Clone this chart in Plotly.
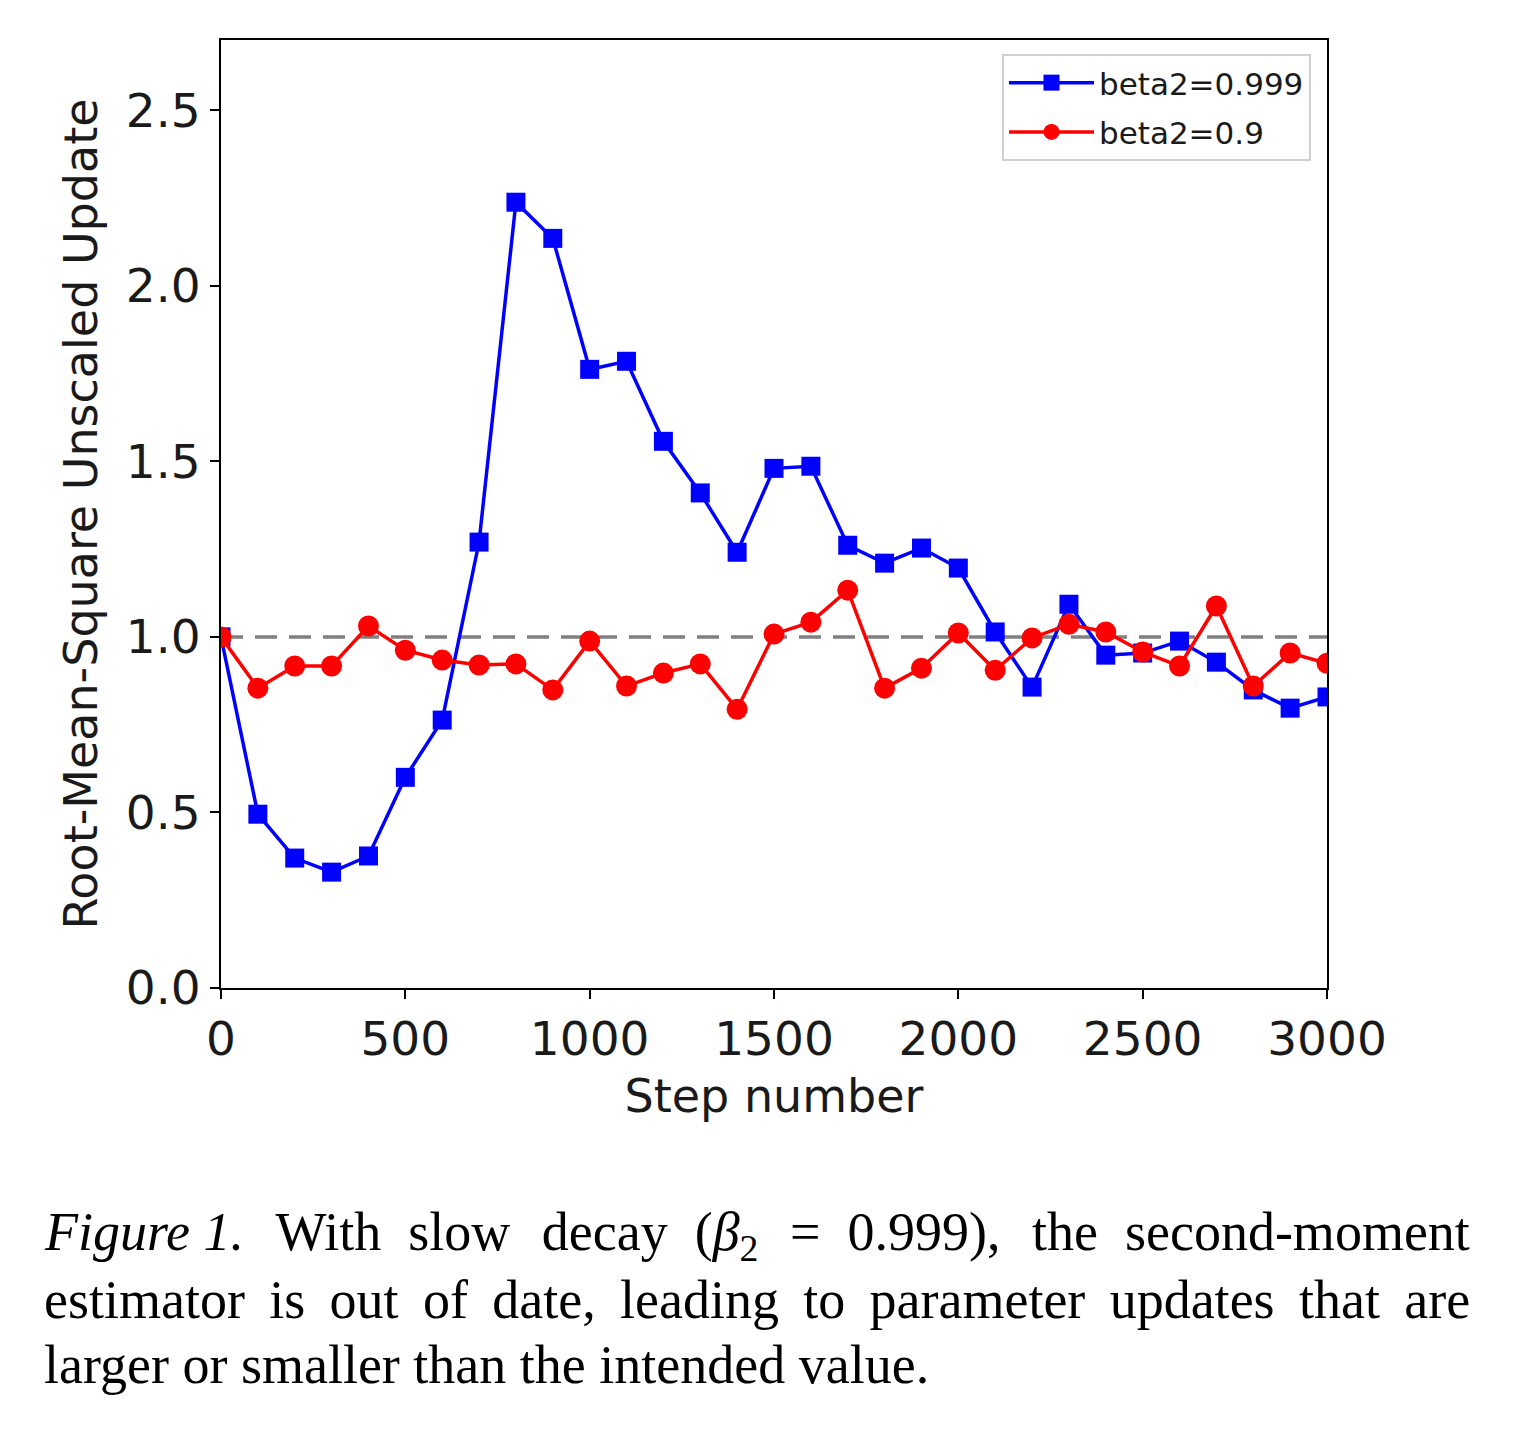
import plotly.graph_objects as go

steps = list(range(0, 3001, 100))
beta999 = [1.0, 0.495, 0.37, 0.33, 0.376, 0.60, 0.763, 1.27, 2.238, 2.135, 1.762, 1.785,
           1.557, 1.41, 1.241, 1.48, 1.486, 1.261, 1.21, 1.253, 1.196, 1.014, 0.857,
           1.093, 0.948, 0.954, 0.988, 0.928, 0.849, 0.797, 0.829]
beta9 = [1.0, 0.854, 0.917, 0.917, 1.031, 0.962, 0.934, 0.92, 0.923, 0.849, 0.988, 0.86,
         0.897, 0.923, 0.794, 1.008, 1.042, 1.133, 0.854, 0.911, 1.011, 0.905, 0.997,
         1.036, 1.014, 0.957, 0.917, 1.088, 0.86, 0.954, 0.925]
ref_value = 1.0
x_ticks = [0, 500, 1000, 1500, 2000, 2500, 3000]
y_ticks = [0.0, 0.5, 1.0, 1.5, 2.0, 2.5]
caption_words = [
    ["<i>Figure 1.</i>", "With", "slow", "decay", "(<i>β</i><sub>2</sub>", "=", "0.999),",
     "the", "second-moment"],
    ["estimator", "is", "out", "of", "date,", "leading", "to", "parameter", "updates",
     "that", "are"],
    ["larger", "or", "smaller", "than", "the", "intended", "value."],
]
caption_gaps = [
    [" \u00a0\u200a", " \u00a0", " \u00a0\u200a", " \u00a0", " \u00a0\u200a", " \u00a0",
     " \u00a0\u200a", " \u00a0"],
    [" \u2009"] * 10,
    [" "] * 6,
]

W, H = 1504, 1414
L, T = 213, 32
PW, PH = 1106, 948
R = W - L - PW
B = H - T - PH

fig = go.Figure()
fig.add_trace(go.Scatter(x=[0, 3000], y=[ref_value, ref_value], mode="lines",
                         line=dict(color="#808080", width=3.5, dash="22px,12px"),
                         showlegend=False, hoverinfo="skip"))
fig.add_trace(go.Scatter(x=steps, y=beta999, mode="lines+markers", name="beta2=0.999",
                         legendgroup="a",
                         line=dict(color="#0000ff", width=3.5),
                         marker=dict(symbol="square", size=19, color="#0000ff")))
fig.add_trace(go.Scatter(x=steps, y=beta9, mode="lines+markers", name="beta2=0.9",
                         legendgroup="b",
                         line=dict(color="#ff0000", width=3.5),
                         marker=dict(symbol="circle", size=21, color="#ff0000")))

axis_common = dict(showline=True, linecolor="black", linewidth=2, mirror=True,
                   ticks="outside", ticklen=9, tickwidth=2, tickcolor="black",
                   showgrid=False, zeroline=False,
                   tickfont=dict(family="DejaVu Sans", size=47, color="#1a1a1a"))

fig.update_layout(
    width=W, height=H,
    paper_bgcolor="white", plot_bgcolor="white",
    margin=dict(l=L, r=R, t=T, b=B),
    xaxis=dict(range=[0, 3000], tickvals=x_ticks, ticktext=[str(v) for v in x_ticks],
               title=dict(text="Step number", font=dict(family="DejaVu Sans", size=46, color="#1a1a1a"),
                          standoff=14),
               **axis_common),
    yaxis=dict(range=[0, 2.7], tickvals=y_ticks, ticktext=[f"{v:.1f}" for v in y_ticks],
               title=dict(text="Root-Mean-Square Unscaled Update",
                          font=dict(family="DejaVu Sans", size=46, color="#1a1a1a"), standoff=14),
               **axis_common),
    legend=dict(x=(1311 - 221) / PW, y=(988 - 54) / PH, xanchor="right", yanchor="top",
                bgcolor="white", bordercolor="#d0d0d0", borderwidth=2,
                font=dict(family="DejaVu Sans", size=31, color="#1a1a1a"),
                itemwidth=85, tracegroupgap=6),
    showlegend=True,
)

line_y = [1235, 1300, 1365]
for words, gaps, py in zip(caption_words, caption_gaps, line_y):
    text = words[0]
    for g, w in zip(gaps, words[1:]):
        text += g + w
    fig.add_annotation(text=text, xref="paper", yref="paper",
                       x=(42 - 221) / PW, y=(988 - py) / PH,
                       xanchor="left", yanchor="middle", showarrow=False,
                       font=dict(family="Liberation Serif", size=54, color="black"))

fig.write_html("out.html")
